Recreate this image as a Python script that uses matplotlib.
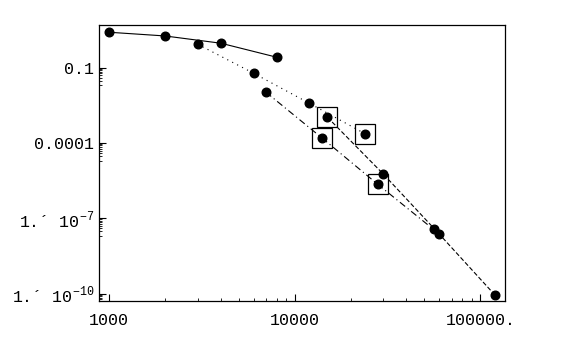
import matplotlib.pyplot as plt
import matplotlib.ticker as mticker

plt.rcParams['font.family'] = ['Liberation Mono', 'DejaVu Sans Mono']
plt.rcParams['mathtext.fontset'] = 'custom'
plt.rcParams['mathtext.rm'] = 'Liberation Mono'

# four runs, each doubling n
n_a = [1000, 2000, 4000, 8000]
err_a = [2.57, 1.83, 0.94, 0.26]

n_b = [3000, 6000, 12000, 24000]
err_b = [0.855, 0.06, 0.0038, 0.00023]

n_c = [7000, 14000, 28000, 56000]
err_c = [0.0105, 0.00016, 2.26e-6, 3.6e-8]

n_d = [15000, 30000, 60000, 120000]
err_d = [0.00106, 5.8e-6, 2.37e-8, 8.7e-11]

# points marked with an open box
boxed_n = [15000, 24000, 14000, 28000]
boxed_err = [0.00106, 0.00023, 0.00016, 2.26e-6]

yticks = [0.1, 1e-4, 1e-7, 1e-10]
ylabels = ["0.1", "0.0001", "1.\u00b4 10$^{-7}$", "1.\u00b4 10$^{-10}$"]
xticks = [1000, 10000, 100000]
xlabels = ["1000", "10000", "100000."]

fig = plt.figure(figsize=(5.76, 3.56), dpi=100)
ax = fig.add_axes([0.172, 0.1545, 0.705, 0.7753])

mk = dict(marker="o", markersize=6.2, color="black", lw=0.8)
ax.plot(n_a, err_a, linestyle="-", **mk)
ax.plot(n_b, err_b, linestyle=(0, (1, 4)), **mk)
ax.plot(n_c, err_c, linestyle=(0, (6, 3, 1, 3)), **mk)
ax.plot(n_d, err_d, linestyle=(0, (4, 2)), **mk)
ax.plot(boxed_n, boxed_err, linestyle="none", marker="s", markersize=14,
        markerfacecolor="none", markeredgecolor="black", markeredgewidth=0.9)

ax.set_xscale("log")
ax.set_yscale("log")
ax.set_xlim(883, 136000)
ax.set_ylim(5.1e-11, 5.0)

ax.xaxis.set_major_locator(mticker.FixedLocator(xticks))
ax.xaxis.set_major_formatter(mticker.FixedFormatter(xlabels))
ax.xaxis.set_minor_locator(mticker.FixedLocator(
    [m * j for m in [1000, 10000] for j in range(2, 10)]))
ax.xaxis.set_minor_formatter(mticker.NullFormatter())

ax.yaxis.set_major_locator(mticker.FixedLocator(yticks))
ax.yaxis.set_major_formatter(mticker.FixedFormatter(ylabels))
ax.yaxis.set_minor_locator(mticker.FixedLocator(
    [m * j / 10 for m in yticks for j in range(2, 10)]))
ax.yaxis.set_minor_formatter(mticker.NullFormatter())

ax.tick_params(which="major", direction="in", length=5, width=0.8, labelsize=12)
ax.tick_params(which="minor", direction="in", length=2.5, width=0.6)
ax.tick_params(axis="x", pad=9)
for s in ax.spines.values():
    s.set_linewidth(0.9)

fig.savefig("out.png", dpi=100)
